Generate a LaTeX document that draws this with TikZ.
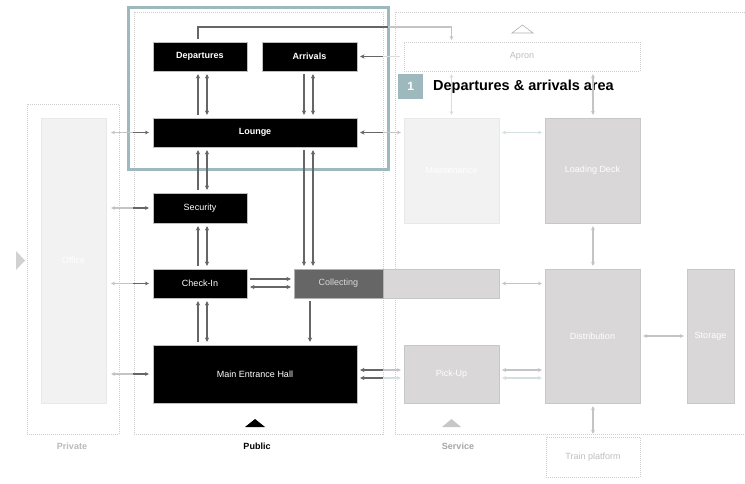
\documentclass[tikz,border=0pt]{standalone}
\usepackage{fontspec}
\setmainfont{Liberation Sans}
\usetikzlibrary{arrows.meta}

\definecolor{dkline}{HTML}{666666}
\definecolor{lgline}{HTML}{C4C4C4}
\definecolor{blline}{HTML}{D3DFE1}
\definecolor{tealc}{HTML}{9DB9BD}
\definecolor{boxgray}{HTML}{D9D7D8}
\definecolor{pale}{HTML}{F2F2F2}
\definecolor{zonec}{HTML}{CDCDCD}
\definecolor{collgray}{HTML}{666666}

\begin{document}
\begin{tikzpicture}[x=1pt,y=-1pt,
  base/.style={anchor=north west,inner sep=0pt,outer sep=0pt,
    font=\fontsize{9}{10}\selectfont,text=white},
  blk/.style={base,fill=black,draw=black!25,line width=0.5pt},
  blkb/.style={blk,font=\fontsize{9}{10}\selectfont\bfseries},
  gbox/.style={base,fill=boxgray,draw=black!22,line width=0.5pt},
  pbox/.style={base,fill=pale,draw=black!9,line width=0.5pt},
  dbox/.style={base,draw=zonec,dash pattern=on 1pt off 1pt,line width=0.5pt,text=black!25},
  zone/.style={draw=zonec,dash pattern=on 1pt off 1pt,line width=0.6pt},
  zlabel/.style={font=\fontsize{9}{10}\selectfont\bfseries},
  dk/.style={draw=dkline,line width=1.6pt,shorten <=3pt,shorten >=3pt},
  lg/.style={draw=lgline,line width=1.2pt,shorten <=3pt,shorten >=3pt},
  bl/.style={draw=blline,line width=1.2pt,shorten <=3pt,shorten >=3pt},
  up/.style={-{Stealth[length=4.5pt,width=4.2pt]}},
  both/.style={{Stealth[length=4.5pt,width=4.2pt]}-{Stealth[length=4.5pt,width=4.2pt]}},
  lup/.style={-{Stealth[length=4pt,width=3.8pt]}},
  lback/.style={{Stealth[length=4pt,width=3.8pt]}-},
  lboth/.style={{Stealth[length=4pt,width=3.8pt]}-{Stealth[length=4pt,width=3.8pt]}},
]
\useasboundingbox[fill=white] (0,0) rectangle (745,484);

% zones
\draw[zone] (27,104) rectangle (119,434);
\draw[zone] (134,12) rectangle (383,434);
\draw[zone] (745,12) -- (395,12) -- (395,434) -- (745,434);

\node[zlabel,text=black!27] (lpriv) at (72,446) {Private};
\node[zlabel,text=black] (lpub) at (257,446) {Public};
\node[zlabel,text=black!35] (lserv) at (458,446) {Service};

% zone markers
\fill[black] (245,427) -- (255,419) -- (265,427) -- cycle;
\fill[black!22] (442,427) -- (451.5,419) -- (461,427) -- cycle;
\draw[black!30,line width=0.6pt] (512,33) -- (522.5,25) -- (533,33) -- cycle;
\fill[black!18] (16,251) -- (25,260.5) -- (16,270) -- cycle;

% highlighted area
\draw[tealc,line width=3pt] (128,8) rectangle (388,170);
\node[anchor=north west,fill=tealc,minimum width=25pt,minimum height=25pt,
  inner sep=0pt,text=white,font=\fontsize{12}{13}\selectfont\bfseries] (num) at (398,74) {1};
\node[anchor=west,inner sep=0pt,font=\fontsize{14.5}{16}\selectfont\bfseries] (title)
  at (433,87) {Departures \& arrivals area};

% private
\node[pbox,minimum width=65pt,minimum height=285pt] (office) at (41,118) {Office};

% public
\node[blkb,minimum width=94pt,minimum height=29pt] (dep) at (153,42) {Departures};
\node[blkb,minimum width=95pt,minimum height=29pt] (arr) at (262,42) {Arrivals};
\node[blkb,minimum width=204pt,minimum height=29pt] (lounge) at (153,118) {Lounge};
\node[blk,minimum width=94pt,minimum height=30pt] (sec) at (153,193) {Security};
\node[blk,minimum width=94pt,minimum height=29pt] (chk) at (153,269) {Check-In};
\node[gbox,minimum width=116pt,minimum height=29pt] (collx) at (383,269) {};
\node[base,fill=collgray,draw=black!30,line width=0.5pt,minimum width=89pt,minimum height=29pt,
  text=black!15] (coll) at (294,269) {Collecting};
\node[blk,minimum width=204pt,minimum height=58pt] (main) at (153,345) {Main Entrance Hall};

% service
\node[dbox,minimum width=236pt,minimum height=29pt] (apron) at (404,42) {Apron};
\node[pbox,minimum width=95pt,minimum height=105pt] (maint) at (404,118) {Maintenance};
\node[gbox,minimum width=95pt,minimum height=105pt] (load) at (545,118) {Loading Deck};
\node[gbox,minimum width=95pt,minimum height=134pt] (dist) at (545,269) {Distribution};
\node[gbox,minimum width=47pt,minimum height=134pt] (stor) at (687,269) {Storage};
\node[gbox,minimum width=95pt,minimum height=58pt] (pick) at (404,345) {Pick-Up};
\node[dbox,minimum width=94pt,minimum height=40pt] (train) at (546,437) {Train platform};

% columns and rows used by the connectors
\coordinate (xa) at (198,0);
\coordinate (xb) at (207,0);
\coordinate (xc) at (304,0);
\coordinate (xd) at (313,0);
\coordinate (xe) at (310,0);
\coordinate (xs) at (451.5,0);
\coordinate (xl) at (593,0);
\coordinate (pubL) at (133,0);
\coordinate (pubR) at (383,0);
\coordinate (r1) at (0,279);
\coordinate (r2) at (0,287);
\coordinate (r3) at (0,370);
\coordinate (r4) at (0,378);
\coordinate (loopR) at (388,27);

% vertical links in the public zone
\draw[dk,up] (lounge.north -| xa) -- (dep.south -| xa);
\draw[dk,both] (lounge.north -| xb) -- (dep.south -| xb);
\draw[dk,up] (arr.south -| xc) -- (lounge.north -| xc);
\draw[dk,both] (arr.south -| xd) -- (lounge.north -| xd);
\draw[dk,up] (sec.north -| xa) -- (lounge.south -| xa);
\draw[dk,both] (sec.north -| xb) -- (lounge.south -| xb);
\draw[dk,up] (lounge.south -| xc) -- (coll.north -| xc);
\draw[dk,both] (lounge.south -| xd) -- (coll.north -| xd);
\draw[dk,up] (chk.north -| xa) -- (sec.south -| xa);
\draw[dk,both] (chk.north -| xb) -- (sec.south -| xb);
\draw[dk,up] (main.north -| xa) -- (chk.south -| xa);
\draw[dk,both] (main.north -| xb) -- (chk.south -| xb);
\draw[dk,up] (coll.south -| xe) -- (main.north -| xe);

% check-in to collecting
\draw[dk,up] (chk.east |- r1) -- (coll.west |- r1);
\draw[dk,both] (chk.east |- r2) -- (coll.west |- r2);

% departures to apron
\draw[draw=dkline,line width=1.6pt,shorten <=3pt] (dep.north -| xa) |- (loopR);
\draw[draw=lgline,line width=1.2pt,shorten >=2pt,lup] (loopR) -| (apron.north -| xs);

% service side into the public zone
\draw[dk,shorten <=0pt,up] (arr.east -| pubR) -- (arr.east);
\draw[draw=lgline!60,line width=1.2pt] (arr.east -| pubR) -- ([xshift=-4pt]apron.west);
\draw[dk,shorten <=0pt,up] (lounge.east -| pubR) -- (lounge.east);
\draw[lg,shorten <=0pt,lup] (lounge.east -| pubR) -- (maint.west |- lounge.east);
\draw[dk,shorten <=0pt,up] (pubR |- r3) -- (main.east |- r3);
\draw[dk,shorten <=0pt,up] (pubR |- r4) -- (main.east |- r4);
\draw[lg,shorten <=0pt,lup] (pubR |- r3) -- (pick.west |- r3);
\draw[bl,shorten <=0pt,lup] (pubR |- r4) -- (pick.west |- r4);

% office into the public zone
\foreach \n in {lounge,sec,chk,main}{
  \draw[draw=lgline,line width=1.2pt,shorten <=5pt,lback] (office.east |- \n.west) -- (pubL |- \n.west);
  \draw[draw=dkline,line width=1.4pt,shorten >=4pt,lup] (pubL |- \n.west) -- (\n.west);
}

% service zone links
\draw[bl,lboth] (apron.south -| xs) -- (maint.north -| xs);
\draw[lg,lboth] (apron.south -| xl) -- (load.north -| xl);
\draw[bl,lboth] (maint.east |- lounge.east) -- (load.west |- lounge.east);
\draw[lg,lboth] (load.south -| xl) -- (dist.north -| xl);
\draw[lg,lboth] (collx.east) -- (collx.east -| dist.west);
\draw[lg,lboth] (pick.east |- r3) -- (dist.west |- r3);
\draw[bl,lboth] (pick.east |- r4) -- (dist.west |- r4);
\draw[lg,lboth] (dist.east) -- (stor.west);
\draw[lg,lboth] (dist.south -| xl) -- (train.north -| xl);
\end{tikzpicture}
\end{document}
